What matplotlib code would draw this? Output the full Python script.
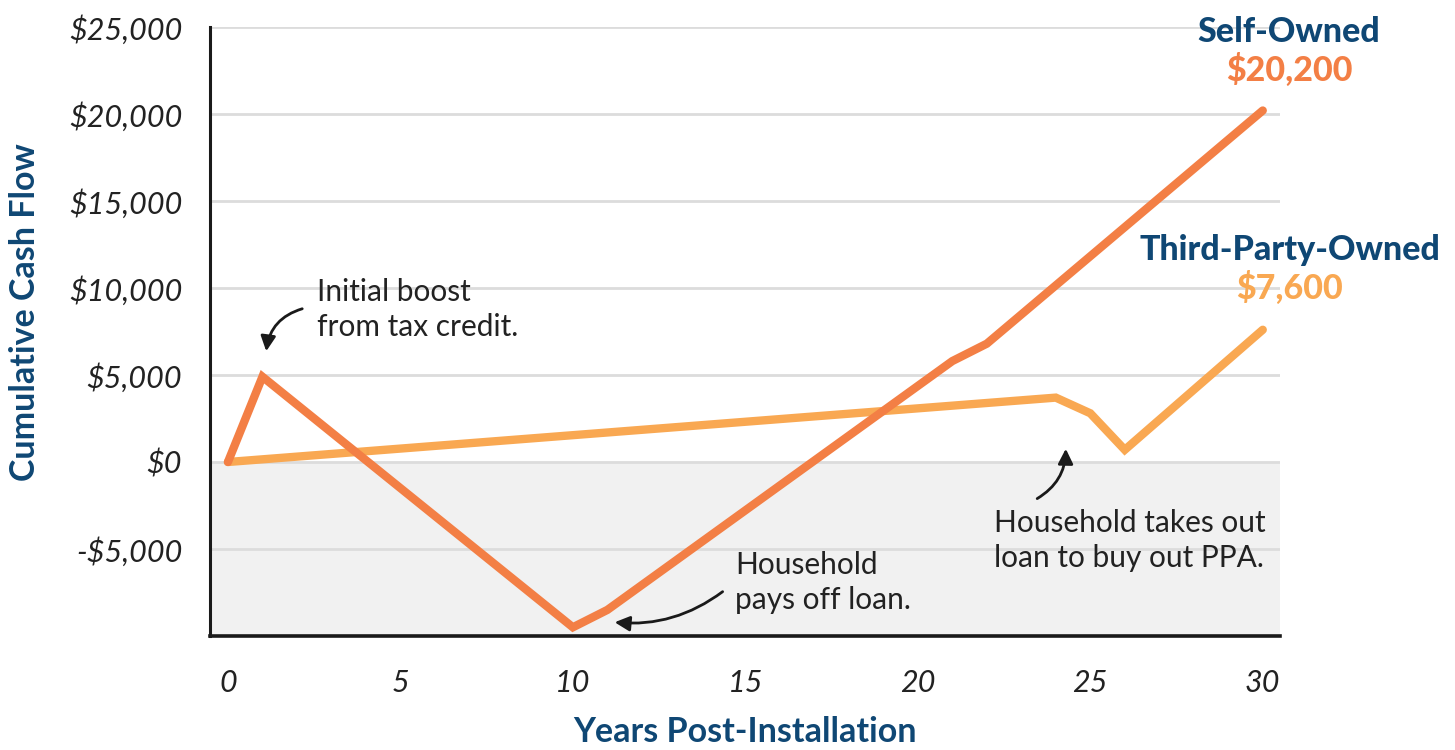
import matplotlib
matplotlib.use("Agg")
import matplotlib.pyplot as plt

# ---- data ----
self_years = [0, 1, 10, 11, 21, 22, 30]
self_values = [0, 4900, -9500, -8500, 5800, 6800, 20200]
tpo_years = [0, 24, 25, 26, 30]
tpo_values = [0, 3700, 2800, 700, 7600]
x_ticks = [0, 5, 10, 15, 20, 25, 30]
y_ticks = [-5000, 0, 5000, 10000, 15000, 20000, 25000]
y_tick_labels = ["-$5,000", "$0", "$5,000", "$10,000", "$15,000", "$20,000", "$25,000"]

NAVY = "#0f4774"
C_SELF = "#f37f45"
C_TPO = "#f9a852"
TXT = "#222222"

plt.rcParams['font.family'] = ['Lato', 'DejaVu Sans']

fig = plt.figure(figsize=(14.55, 7.5), dpi=100)
ax = fig.add_axes([210/1455, 1-636/750, (1280-210)/1455, (636-27)/750])
ax.set_xlim(-0.52, 30.5)
ax.set_ylim(-10000, 25000)

ax.axhspan(-10000, 0, color="#f1f1f1", zorder=0, lw=0)
for y in y_ticks:
    ax.axhline(y, color="#dcdcdc", lw=2, zorder=1)

ax.plot(tpo_years, tpo_values, color=C_TPO, lw=6, solid_capstyle="round",
        solid_joinstyle="miter", zorder=3)
ax.plot(self_years, self_values, color=C_SELF, lw=6, solid_capstyle="round",
        solid_joinstyle="miter", zorder=4)

for s in ["top", "right"]:
    ax.spines[s].set_visible(False)
ax.spines["left"].set_color("#1a1a1a")
ax.spines["left"].set_linewidth(2.2)
ax.spines["bottom"].set_color("#1a1a1a")
ax.spines["bottom"].set_linewidth(2.6)
ax.spines["left"].set_zorder(5)
ax.spines["bottom"].set_zorder(5)

ax.set_xticks(x_ticks)
ax.set_xticklabels([str(v) for v in x_ticks], fontsize=22, style="italic",
                   color=TXT, fontweight="normal")
ax.set_yticks(y_ticks)
ax.set_yticklabels(y_tick_labels, fontsize=22, style="italic", color=TXT,
                   fontweight="normal")
ax.tick_params(axis="both", length=0)
ax.tick_params(axis="x", pad=24)
ax.tick_params(axis="y", pad=20)

fig.text(745/1455, 1-732/750, "Years Post-Installation", ha="center", va="center",
         fontsize=24.5, fontweight="bold", color=NAVY)
fig.text(25/1455, 1-312/750, "Cumulative Cash Flow", ha="center", va="center",
         rotation=90, fontsize=24.5, fontweight="bold", color=NAVY)

# series labels
fig.text(1289/1455, 1-32/750, "Self-Owned", ha="center", va="center",
         fontsize=24.5, fontweight="black", color=NAVY)
fig.text(1289/1455, 1-70/750, "$20,200", ha="center", va="center",
         fontsize=24.5, fontweight="black", color=C_SELF)
fig.text(1290/1455, 1-250/750, "Third-Party-Owned", ha="center", va="center",
         fontsize=24.5, fontweight="black", color=NAVY)
fig.text(1290/1455, 1-288/750, "$7,600", ha="center", va="center",
         fontsize=24.5, fontweight="black", color=C_TPO)

def px2data(px, py):
    return ((px - 228) / 34.5, (462 - py) / 87.0 * 5000)

def note(text, px, py):
    x, y = px2data(px, py)
    ax.text(x, y, text, ha="left", va="top", fontsize=21.5, color=TXT,
            linespacing=1.3, zorder=6)

note("Initial boost\nfrom tax credit.", 317, 278)
note("Household\npays off loan.", 735, 551)
note("Household takes out\nloan to buy out PPA.", 994, 509)

def arrow(p0, p1, rad):
    ax.annotate("", xy=px2data(*p1), xytext=px2data(*p0),
                arrowprops=dict(arrowstyle="-|>,head_length=0.9,head_width=0.45",
                                color="#1a1a1a", lw=2,
                                connectionstyle=f"arc3,rad={rad}"),
                zorder=6)

arrow((305, 308), (266, 354), 0.35)
arrow((725, 590), (612, 622), -0.2)
arrow((1035, 500), (1066, 446), 0.3)

fig.savefig("out.png", dpi=100, facecolor="white")
